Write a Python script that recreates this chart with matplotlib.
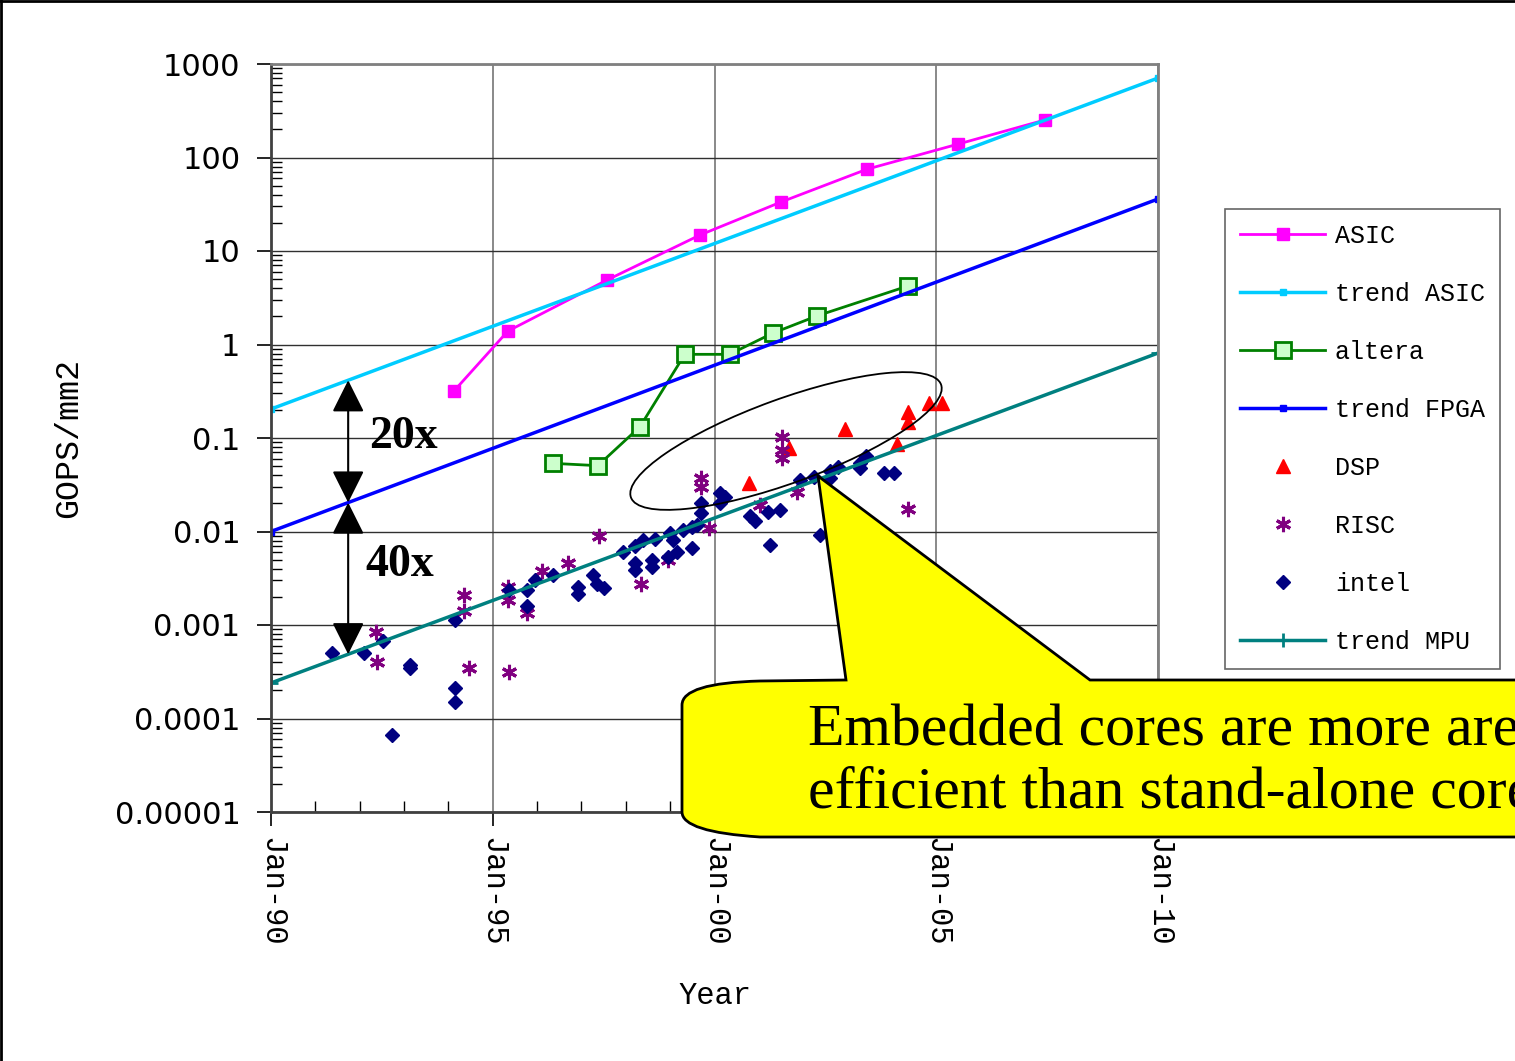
import numpy as np
import matplotlib
matplotlib.use("Agg")
import matplotlib.pyplot as plt
from matplotlib.patches import Ellipse, PathPatch
from matplotlib.path import Path

#------------------------------------------------------------------------------------
# Data (years as decimal, values in GOPS/mm2)
asic_year = [1994.13, 1995.34, 1997.58, 1999.67, 2001.50, 2003.44, 2005.49, 2007.45]
asic_val = [0.32, 1.39, 4.9, 14.8, 33.4, 75, 139, 252]

trend_year = [1990, 2010]
trend_asic = [0.204, 708]
trend_fpga = [0.01, 36]
trend_mpu = [2.4e-4, 0.81]

altera_year = [1996.35, 1997.37, 1998.32, 1999.33, 2000.34, 2001.31, 2002.32, 2004.36]
altera_val = [0.0536, 0.0506, 0.132, 0.785, 0.785, 1.32, 2.03, 4.22]

dsp_year = [2000.78, 2001.69, 2002.95, 2004.11, 2004.37, 2004.37, 2004.84, 2005.12]
dsp_val = [0.0328, 0.0776, 0.124, 0.0857, 0.191, 0.149, 0.239, 0.239]

risc_year = [1992.37, 1992.39, 1994.35, 1994.35, 1994.46, 1995.34, 1995.34, 1995.37,
             1995.77, 1996.11, 1996.70, 1997.40, 1998.34, 1998.95, 1999.70, 1999.70,
             1999.88, 2001.03, 2001.53, 2001.53, 2001.53, 2001.86, 2004.36]
risc_val = [8.41e-4, 4.02e-4, 2.09e-3, 1.41e-3, 3.47e-4, 2.55e-3, 1.85e-3, 3.14e-4,
            1.34e-3, 3.78e-3, 4.61e-3, 8.95e-3, 2.75e-3, 4.95e-3, 0.0373, 0.0299,
            0.0109, 0.0192, 0.1025, 0.0744, 0.0611, 0.0264, 0.0174]

intel_year = [1991.38, 1992.10, 1992.53, 1992.73, 1993.13, 1993.13, 1994.15, 1994.15, 1994.15,
              1995.37, 1995.77, 1995.77, 1995.95, 1996.36, 1996.92, 1996.92, 1997.26, 1997.35,
              1997.51, 1997.94, 1998.21, 1998.21, 1998.21, 1998.39, 1998.59, 1998.59, 1998.66,
              1999.00, 1999.06, 1999.15, 1998.95, 1999.29, 1999.49, 1999.49, 1999.61, 1999.70,
              1999.70, 2000.12, 2000.24, 2000.12, 2000.80, 2000.91, 2001.21, 2001.48, 2001.25,
              2001.93, 2002.24, 2002.38, 2002.60, 2002.78, 2002.60, 2003.28, 2003.42, 2003.28,
              2003.82, 2004.05]
intel_val = [5.02e-4, 5.02e-4, 6.75e-4, 6.67e-5, 3.73e-4, 3.47e-4, 1.13e-3, 2.12e-4, 1.50e-4,
             2.37e-3, 2.37e-3, 1.60e-3, 3.03e-3, 3.43e-3, 2.55e-3, 2.15e-3, 3.43e-3, 2.75e-3,
             2.49e-3, 6.04e-3, 7.00e-3, 4.60e-3, 3.87e-3, 8.11e-3, 4.95e-3, 4.17e-3, 8.31e-3,
             9.64e-3, 8.11e-3, 6.04e-3, 5.34e-3, 0.0104, 0.0112, 6.66e-3, 0.0117, 0.0202,
             0.0158, 0.0258, 0.0234, 0.0202, 0.0147, 0.0129, 0.0162, 0.0170, 7.17e-3,
             0.0355, 0.0383, 9.18e-3, 0.0444, 0.0490, 0.0373, 0.0541, 0.0642, 0.0478,
             0.0422, 0.0422]

xticks = [1990, 1995, 2000, 2005, 2010]
xticklabels = ["Jan-90", "Jan-95", "Jan-00", "Jan-05", "Jan-10"]
yticks = [1e3, 1e2, 1e1, 1, 0.1, 0.01, 1e-3, 1e-4, 1e-5]
yticklabels = ["1000", "100", "10", "1", "0.1", "0.01", "0.001", "0.0001", "0.00001"]

callout_lines = ["Embedded cores are more area", "efficient than stand-alone cores"]

#------------------------------------------------------------------------------------
W, H = 1515, 1061
fig = plt.figure(figsize=(W / 100, H / 100), dpi=100)
ax = fig.add_axes([271 / W, 1 - 812 / H, 887 / W, 748 / H])

mono = "Liberation Mono"

ax.plot(asic_year, asic_val, color="#FF00FF", lw=2, marker="s", ms=8, label="ASIC")
ax.plot(trend_year, trend_asic, color="#00CCFF", lw=2.5, marker="s", ms=4, label="trend ASIC")
ax.plot(altera_year, altera_val, color="#008000", lw=2, marker="s", ms=11,
        mfc="#CCFFCC", mec="#008000", mew=2, label="altera")
ax.plot(trend_year, trend_fpga, color="#0000FF", lw=2.5, marker="s", ms=4, label="trend FPGA")
ax.plot(dsp_year, dsp_val, ls="none", marker="^", ms=10, color="#FF0000", label="DSP")
ax.plot(risc_year, risc_val, ls="none", marker=(6, 2, 0), ms=11, mew=2.2, color="#800080", label="RISC")
ax.plot(intel_year, intel_val, ls="none", marker="D", ms=7, color="#000080", label="intel")
ax.plot(trend_year, trend_mpu, color="#008080", lw=2.5, marker="+", ms=10, mew=2, label="trend MPU")

ax.set_yscale("log")
ax.set_ylim(1e-5, 1e3)
ax.set_xlim(1990, 2010)
ax.set_yticks(yticks)
ax.set_yticklabels(yticklabels, fontsize=22, family="DejaVu Sans")
ax.yaxis.set_minor_locator(matplotlib.ticker.LogLocator(base=10, subs=np.arange(2, 10)))
ax.yaxis.set_minor_formatter(matplotlib.ticker.NullFormatter())
ax.set_xticks(xticks)
ax.set_xticklabels(xticklabels, rotation=-90, fontsize=22, family=mono)
ax.set_xticks(np.arange(1990, 2011), minor=True)

ax.tick_params(which="major", direction="out", length=10, width=1.2, pad=8)
ax.tick_params(axis="y", which="major", pad=12)
ax.tick_params(which="minor", direction="in", length=8, width=1)
ax.grid(True, axis="y", which="major", color="#303030", lw=1)
ax.grid(True, axis="x", which="major", color="#808080", lw=1.3)

for side in ("top", "right"):
    ax.spines[side].set_color("#808080")
    ax.spines[side].set_linewidth(2)
for side in ("left", "bottom"):
    ax.spines[side].set_color("#404040")
    ax.spines[side].set_linewidth(2)

ax.set_xlabel("Year", fontsize=22, family=mono, labelpad=25)
ax.set_ylabel("GOPS/mm2", fontsize=24, family=mono, labelpad=22)

leg = fig.legend(loc="upper left", bbox_to_anchor=(1225 / W, 1 - 209 / H), borderaxespad=0,
                 prop={"family": mono, "size": 18}, frameon=True, fancybox=False,
                 edgecolor="#404040", numpoints=1, handlelength=3.4, handletextpad=0.4,
                 labelspacing=1.36, borderpad=0.6)
leg.get_frame().set_linewidth(1.2)

# double arrows between the trend lines
xa = 1991.74
lg = lambda tr: 10 ** np.interp(xa, trend_year, np.log10(tr))
arrow = dict(arrowstyle="<|-|>,head_length=0.8,head_width=0.4", color="black",
             lw=1.5, shrinkA=0, shrinkB=0, mutation_scale=25)
ax.annotate("", xy=(xa, lg(trend_asic)), xytext=(xa, lg(trend_fpga)), arrowprops=arrow)
ax.annotate("", xy=(xa, lg(trend_fpga)), xytext=(xa, lg(trend_mpu)), arrowprops=arrow)
ax.text(1992.98, 0.1026, "20x", fontsize=33, fontweight="bold", family="Liberation Serif",
        ha="center", va="center")
ax.text(1992.91, 0.00438, "40x", fontsize=33, fontweight="bold", family="Liberation Serif",
        ha="center", va="center")

# ellipse around embedded cores
ell = Ellipse((7.86, (H - 441) / 100), 3.3, 0.84, angle=20, fill=False, ec="black", lw=1.3,
              transform=fig.dpi_scale_trans, zorder=5)
fig.add_artist(ell)

# callout bubble (runs off the right edge, as in the original slide)
pts = [(818, 476), (1090, 680), (1540, 680), (1540, 837), (760, 837),
       (682, 832), (682, 812), (682, 705), (682, 683), (760, 681), (846, 680), (818, 476)]
codes = [Path.MOVETO, Path.LINETO, Path.LINETO, Path.LINETO, Path.LINETO,
         Path.CURVE3, Path.CURVE3, Path.LINETO, Path.CURVE3, Path.CURVE3, Path.LINETO, Path.CLOSEPOLY]
verts = [(x / W, 1 - y / H) for x, y in pts]
bubble = PathPatch(Path(verts, codes), facecolor="#FFFF00", edgecolor="black", lw=2,
                   transform=fig.transFigure, zorder=6)
fig.add_artist(bubble)
fig.text(808 / W, 1 - 746 / H, callout_lines[0], fontsize=43, family="Liberation Serif",
         va="baseline", ha="left", zorder=7)
fig.text(808 / W, 1 - 808 / H, callout_lines[1], fontsize=43, family="Liberation Serif",
         va="baseline", ha="left", zorder=7)

# figure border
fig.add_artist(plt.Line2D([0, 1], [1 - 1 / H, 1 - 1 / H], color="black", lw=2, transform=fig.transFigure))
fig.add_artist(plt.Line2D([1 / W, 1 / W], [0, 1], color="black", lw=2, transform=fig.transFigure))

fig.savefig("out.png", dpi=100)
